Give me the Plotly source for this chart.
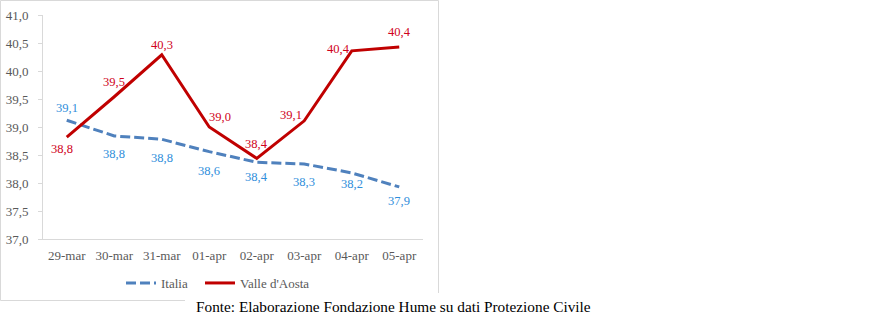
import plotly.graph_objects as go

dates = ["29-mar", "30-mar", "31-mar", "01-apr", "02-apr", "03-apr", "04-apr", "05-apr"]
italia = [39.12, 38.84, 38.78, 38.56, 38.37, 38.34, 38.18, 37.93]
valle = [38.82, 39.54, 40.29, 39.00, 38.44, 39.11, 40.36, 40.43]
y_ticks = [37.0, 37.5, 38.0, 38.5, 39.0, 39.5, 40.0, 40.5, 41.0]

# label offsets (px) – styling only
ita_off = [(0, -12), (0, 18), (0, 19), (0, 19), (0, 15), (0, 18), (0, 11), (0, 14)]
val_off = [(-5, 12), (0, -15), (0, -10), (11, -10), (0, -14), (-13, -6), (-13, -2), (0, -15)]

BLUE = "#4F81BD"
BLUE_TXT = "#2F8EDB"
RED = "#C00000"
RED_TXT = "#D0021B"
GRAY = "#595959"
SERIF = "Liberation Serif, DejaVu Serif, serif"

fig = go.Figure()
fig.add_trace(go.Scatter(x=dates, y=italia, name="Italia", mode="lines", legend="legend",
                         line=dict(color=BLUE, width=3, dash="10px,4px")))
fig.add_trace(go.Scatter(x=dates, y=valle, name="Valle d'Aosta", mode="lines", legend="legend2",
                         line=dict(color=RED, width=3)))

def fmt(v):
    return f"{v:.1f}".replace(".", ",")

anns = []
for d, v, (dx, dy) in zip(dates, italia, ita_off):
    anns.append(dict(x=d, y=v, text=fmt(v), showarrow=False, xshift=dx, yshift=-dy,
                     font=dict(family=SERIF, size=12.5, color=BLUE_TXT)))
for d, v, (dx, dy) in zip(dates, valle, val_off):
    anns.append(dict(x=d, y=v, text=fmt(v), showarrow=False, xshift=dx, yshift=-dy,
                     font=dict(family=SERIF, size=12.5, color=RED_TXT)))

L, R, T, B = 43, 423, 15, 239
W, H = 879, 324
pw, ph = R - L, B - T
def px(x):
    return (x - L) / pw
def py(y):
    return (B - y) / ph

anns.append(dict(xref="paper", yref="paper", x=px(393.5), y=py(306),
                 text="Fonte: Elaborazione Fondazione Hume su dati Protezione Civile",
                 showarrow=False, xanchor="center", yanchor="middle",
                 font=dict(family=SERIF, size=15.3, color="#000000")))

shapes = [
    dict(type="rect", xref="paper", yref="paper", layer="below",
         x0=px(0.5), x1=px(438.5), y0=py(300.5), y1=py(0.5),
         line=dict(color="#D9D9D9", width=1), fillcolor="rgba(0,0,0,0)"),
    dict(type="rect", xref="paper", yref="paper", layer="below",
         x0=px(185), x1=px(445), y0=py(324), y1=py(293),
         line=dict(width=0), fillcolor="#FFFFFF"),
]

legend_style = dict(orientation="h", xanchor="left", yanchor="middle",
                    font=dict(family=SERIF, size=13, color=GRAY), bgcolor="rgba(0,0,0,0)")

fig.update_layout(
    width=W, height=H,
    margin=dict(l=L, r=W - R, t=T, b=H - B, autoexpand=False),
    paper_bgcolor="white", plot_bgcolor="white",
    separators=",.",
    showlegend=True,
    legend=dict(x=px(121), y=py(283), **legend_style),
    legend2=dict(x=px(200), y=py(283), **legend_style),
    annotations=anns,
    shapes=shapes,
    xaxis=dict(type="category", range=[-0.5, 7.5], showgrid=False, zeroline=False,
               showline=True, linecolor="#D9D9D9", linewidth=1, ticks="",
               tickfont=dict(family=SERIF, size=13, color=GRAY), ticklabelstandoff=4),
    yaxis=dict(range=[37, 41], tickvals=y_ticks, tickformat=".1f", showgrid=False,
               zeroline=False, showline=True, linecolor="#D9D9D9", linewidth=1,
               ticks="outside", ticklen=4, tickcolor="#D9D9D9",
               tickfont=dict(family=SERIF, size=13, color=GRAY), ticklabelstandoff=7),
)

fig.write_html("out.html")
